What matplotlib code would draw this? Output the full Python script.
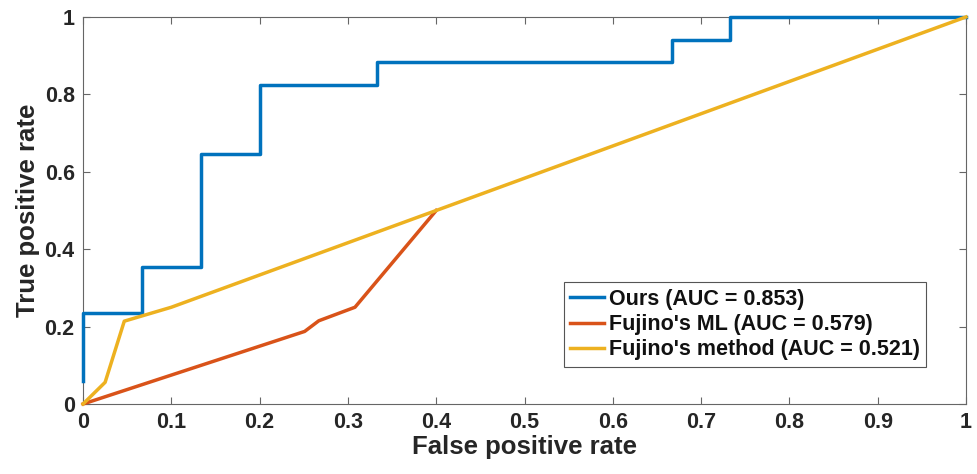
import matplotlib
matplotlib.use("Agg")
import matplotlib.pyplot as plt
from matplotlib.ticker import FuncFormatter

# ROC points
ours_fpr = [0, 0, 0.0667, 0.0667, 0.1333, 0.1333, 0.2, 0.2, 0.3333, 0.3333, 0.6667, 0.6667, 0.7333, 0.7333, 1.0]
ours_tpr = [0.0588, 0.2353, 0.2353, 0.3529, 0.3529, 0.6471, 0.6471, 0.8235, 0.8235, 0.8824, 0.8824, 0.9412, 0.9412, 1.0, 1.0]

ml_fpr = [0, 0.251, 0.267, 0.308, 0.4]
ml_tpr = [0, 0.1875, 0.215, 0.25, 0.5]

method_fpr = [0, 0.025, 0.0467, 0.1, 0.4, 1.0]
method_tpr = [0, 0.056, 0.214, 0.25, 0.5, 1.0]

labels = ["Ours (AUC = 0.853)", "Fujino's ML (AUC = 0.579)", "Fujino's method (AUC = 0.521)"]
colors = ["#0072BD", "#D95319", "#EDB120"]

plt.rcParams['font.family'] = ['Liberation Sans', 'DejaVu Sans']
plt.rcParams['font.weight'] = 'bold'

fig = plt.figure(figsize=(9.77, 4.74), dpi=100)
ax = fig.add_axes([0.085, 0.1477, 0.9037, 0.8165])

ax.plot(ours_fpr, ours_tpr, color=colors[0], lw=2.5, label=labels[0], clip_on=False, zorder=3)
ax.plot(ml_fpr, ml_tpr, color=colors[1], lw=2.5, label=labels[1], clip_on=False, zorder=3)
ax.plot(method_fpr, method_tpr, color=colors[2], lw=2.5, label=labels[2], clip_on=False, zorder=4)

ax.set_xlim(0, 1)
ax.set_ylim(0, 1)
ax.set_xticks([i / 10 for i in range(11)])
ax.set_yticks([i / 5 for i in range(6)])
fmt = FuncFormatter(lambda v, p: "%g" % round(v, 2))
ax.xaxis.set_major_formatter(fmt)
ax.yaxis.set_major_formatter(fmt)

for s in ax.spines.values():
    s.set_color("#666666")
    s.set_linewidth(0.8)
ax.tick_params(direction='in', length=5, width=0.8, color="#666666",
               top=True, right=True, labelsize=15.5, labelcolor='#262626', pad=6)
for lbl in ax.get_xticklabels() + ax.get_yticklabels():
    lbl.set_fontweight('bold')

ax.set_xlabel("False positive rate", fontsize=18.5, fontweight='bold', color='#262626', labelpad=1)
ax.set_ylabel("True positive rate", fontsize=18.5, fontweight='bold', color='#262626', labelpad=3)

leg = ax.legend(loc='lower right', bbox_to_anchor=(0.955, 0.096), fontsize=15.5,
                handlelength=1.6, handletextpad=0.2, labelspacing=0.2,
                borderpad=0.3, borderaxespad=0, fancybox=False, framealpha=1)
leg.get_frame().set_edgecolor("#555555")
leg.get_frame().set_linewidth(0.8)
for t in leg.get_texts():
    t.set_fontweight('bold')
    t.set_color('#111111')

fig.savefig("out.png", dpi=100)
